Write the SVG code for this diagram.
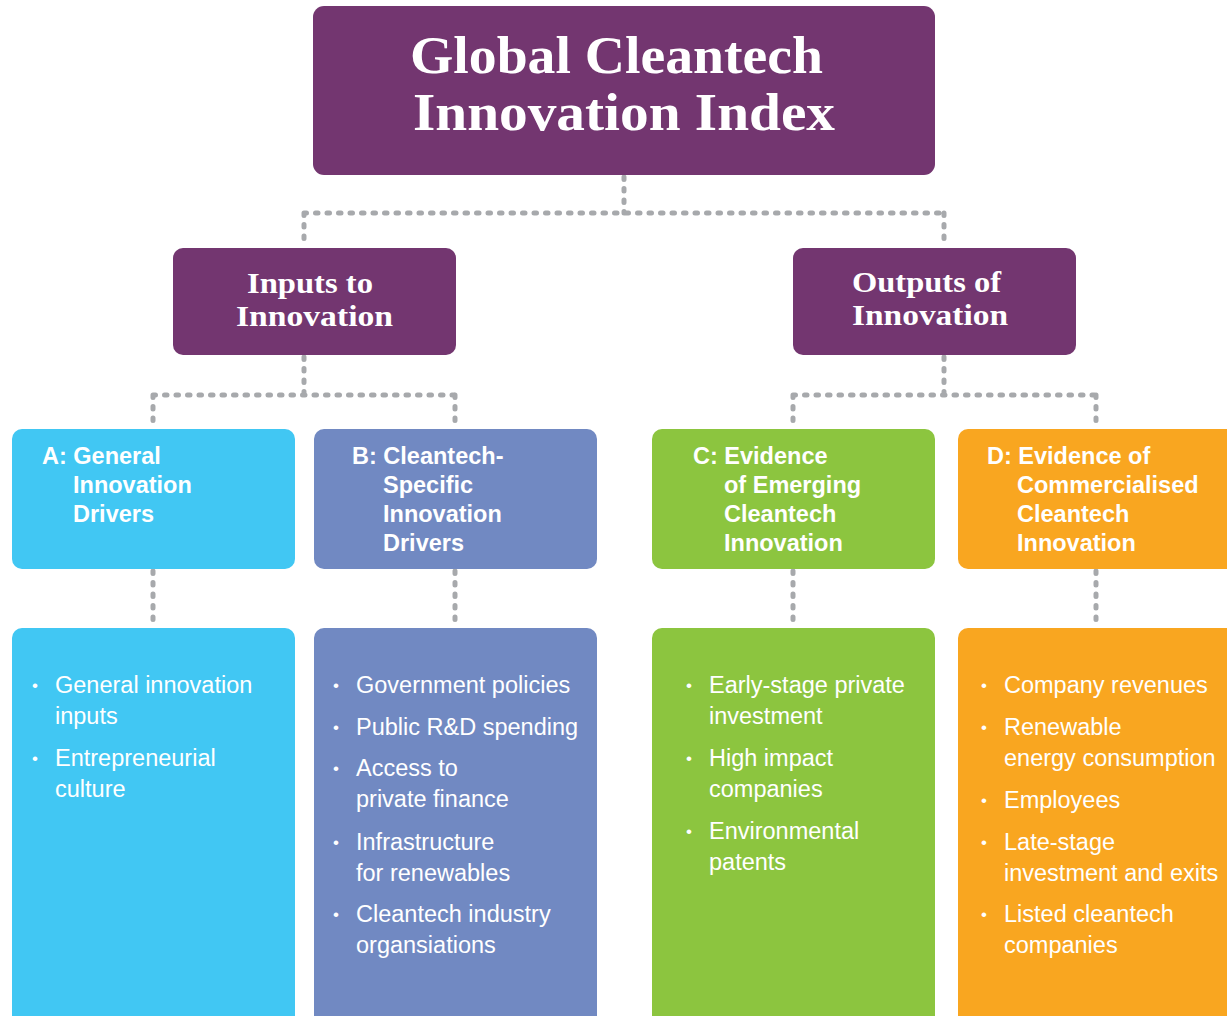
<svg xmlns="http://www.w3.org/2000/svg" width="1227" height="1016" viewBox="0 0 1227 1016">
<style>
.purple{fill:#733670}
.a{fill:#41c7f3}.b{fill:#7189c2}.c{fill:#8cc53f}.d{fill:#f9a620}
.ttl{font-family:"Liberation Serif","Times New Roman",serif;font-weight:bold;fill:#fff}
.hd{font-family:"Liberation Sans",Arial,sans-serif;font-weight:bold;font-size:23.5px;fill:#fff}
.bl{font-family:"Liberation Sans",Arial,sans-serif;font-size:23.5px;fill:#fff}
.dot{font-family:"Liberation Sans",Arial,sans-serif;font-size:17px;fill:#fff}
.con{fill:none;stroke:#a7a9ac;stroke-width:5;stroke-linecap:round;stroke-dasharray:2.5 9}
</style>
<rect width="1227" height="1016" fill="#fff"/>
<g id="connectors">
<path class="con" d="M624 177 V213 M304 213 H944 M304 213 V246 M944 213 V246"/>
<path class="con" d="M304 357 V395 M153 395 H455 M153 395 V427 M455 395 V427"/>
<path class="con" d="M944 357 V395 M793 395 H1096 M793 395 V427 M1096 395 V427"/>
<path class="con" d="M153 571 V626 M455 571 V626 M793 571 V626 M1096 571 V626"/>
</g>
<g id="root">
<rect class="purple" x="313" y="6" width="622" height="169" rx="11"/>
<text class="ttl" font-size="52" x="410" y="73" textLength="413" lengthAdjust="spacingAndGlyphs">Global Cleantech</text>
<text class="ttl" font-size="52" x="413" y="130" textLength="422" lengthAdjust="spacingAndGlyphs">Innovation Index</text>
</g>
<g id="inputs">
<rect class="purple" x="173" y="248" width="283" height="107" rx="10"/>
<text class="ttl" font-size="30" x="247" y="293" textLength="126" lengthAdjust="spacingAndGlyphs">Inputs to</text>
<text class="ttl" font-size="30" x="236" y="326" textLength="157" lengthAdjust="spacingAndGlyphs">Innovation</text>
</g>
<g id="outputs">
<rect class="purple" x="793" y="248" width="283" height="107" rx="10"/>
<text class="ttl" font-size="30" x="852" y="292" textLength="149" lengthAdjust="spacingAndGlyphs">Outputs of</text>
<text class="ttl" font-size="30" x="852" y="325" textLength="156" lengthAdjust="spacingAndGlyphs">Innovation</text>
</g>
<g id="A">
<rect class="a" x="12" y="429" width="283" height="140" rx="10"/>
<text class="hd" x="42" y="464">A: General</text>
<text class="hd" x="73" y="493">Innovation</text>
<text class="hd" x="73" y="522">Drivers</text>
</g>
<g id="B">
<rect class="b" x="314" y="429" width="283" height="140" rx="10"/>
<text class="hd" x="352" y="464">B: Cleantech-</text>
<text class="hd" x="383" y="493">Specific</text>
<text class="hd" x="383" y="522">Innovation</text>
<text class="hd" x="383" y="551">Drivers</text>
</g>
<g id="C">
<rect class="c" x="652" y="429" width="283" height="140" rx="10"/>
<text class="hd" x="693" y="464">C: Evidence</text>
<text class="hd" x="724" y="493">of Emerging</text>
<text class="hd" x="724" y="522">Cleantech</text>
<text class="hd" x="724" y="551">Innovation</text>
</g>
<g id="D">
<rect class="d" x="958" y="429" width="283" height="140" rx="10"/>
<text class="hd" x="987" y="464">D: Evidence of</text>
<text class="hd" x="1017" y="493">Commercialised</text>
<text class="hd" x="1017" y="522">Cleantech</text>
<text class="hd" x="1017" y="551">Innovation</text>
</g>
<g id="A-list">
<rect class="a" x="12" y="628" width="283" height="410" rx="10"/>
<text class="dot" x="32" y="691">•</text>
<text class="bl" x="55" y="693">General innovation</text>
<text class="bl" x="55" y="724">inputs</text>
<text class="dot" x="32" y="764">•</text>
<text class="bl" x="55" y="766">Entrepreneurial</text>
<text class="bl" x="55" y="797">culture</text>
</g>
<g id="B-list">
<rect class="b" x="314" y="628" width="283" height="410" rx="10"/>
<text class="dot" x="333" y="691">•</text>
<text class="bl" x="356" y="693">Government policies</text>
<text class="dot" x="333" y="733">•</text>
<text class="bl" x="356" y="735">Public R&amp;D spending</text>
<text class="dot" x="333" y="774">•</text>
<text class="bl" x="356" y="776">Access to</text>
<text class="bl" x="356" y="807">private finance</text>
<text class="dot" x="333" y="848">•</text>
<text class="bl" x="356" y="850">Infrastructure</text>
<text class="bl" x="356" y="881">for renewables</text>
<text class="dot" x="333" y="920">•</text>
<text class="bl" x="356" y="922">Cleantech industry</text>
<text class="bl" x="356" y="953">organsiations</text>
</g>
<g id="C-list">
<rect class="c" x="652" y="628" width="283" height="410" rx="10"/>
<text class="dot" x="686" y="691">•</text>
<text class="bl" x="709" y="693">Early-stage private</text>
<text class="bl" x="709" y="724">investment</text>
<text class="dot" x="686" y="764">•</text>
<text class="bl" x="709" y="766">High impact</text>
<text class="bl" x="709" y="797">companies</text>
<text class="dot" x="686" y="837">•</text>
<text class="bl" x="709" y="839">Environmental</text>
<text class="bl" x="709" y="870">patents</text>
</g>
<g id="D-list">
<rect class="d" x="958" y="628" width="283" height="410" rx="10"/>
<text class="dot" x="981" y="691">•</text>
<text class="bl" x="1004" y="693">Company revenues</text>
<text class="dot" x="981" y="733">•</text>
<text class="bl" x="1004" y="735">Renewable</text>
<text class="bl" x="1004" y="766">energy consumption</text>
<text class="dot" x="981" y="806">•</text>
<text class="bl" x="1004" y="808">Employees</text>
<text class="dot" x="981" y="848">•</text>
<text class="bl" x="1004" y="850">Late-stage</text>
<text class="bl" x="1004" y="881">investment and exits</text>
<text class="dot" x="981" y="920">•</text>
<text class="bl" x="1004" y="922">Listed cleantech</text>
<text class="bl" x="1004" y="953">companies</text>
</g>
</svg>
